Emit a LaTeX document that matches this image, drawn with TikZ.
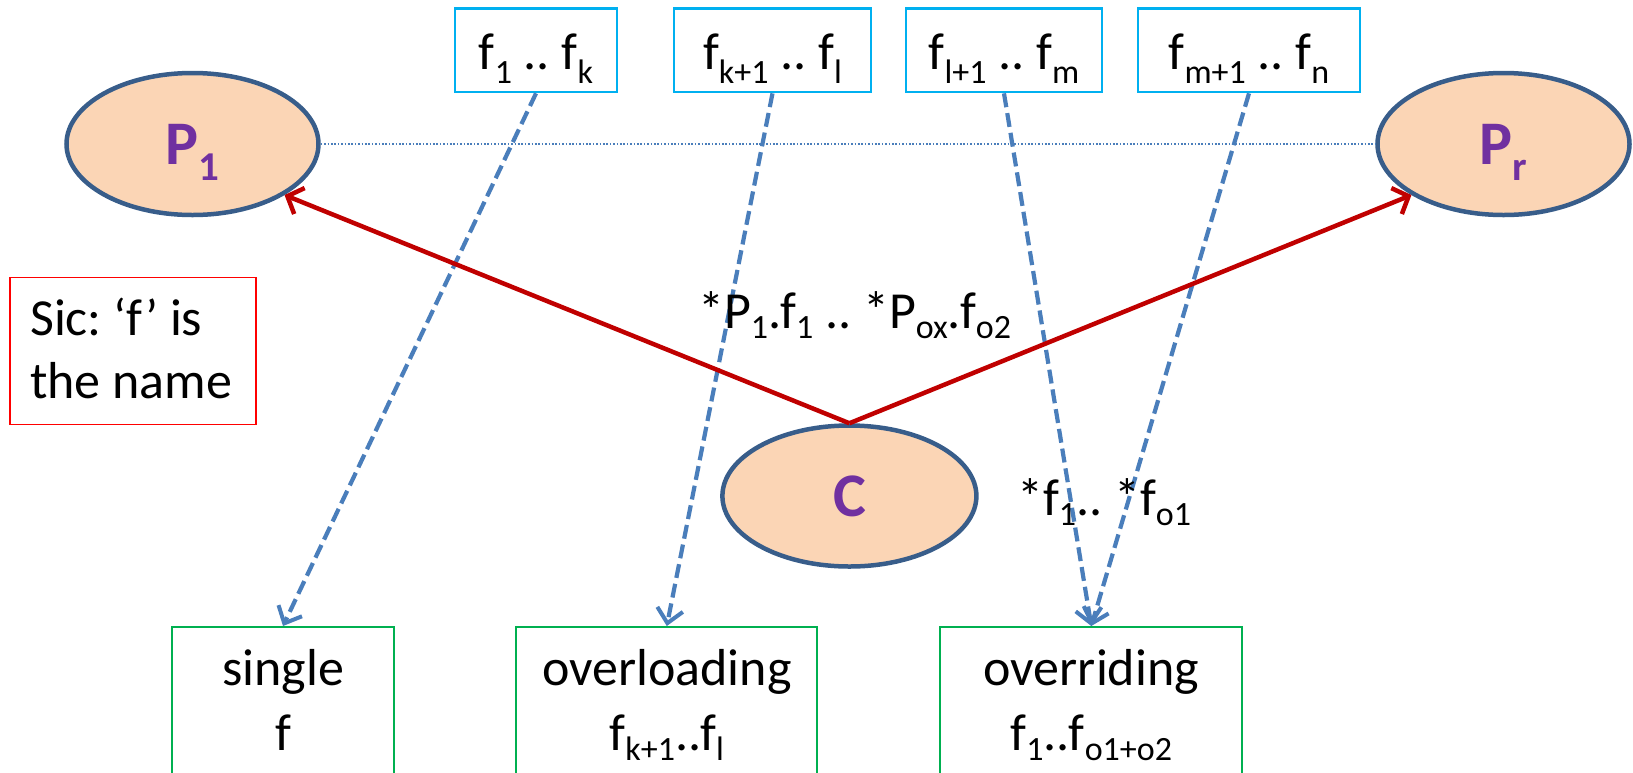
\documentclass[tikz,border=0pt]{standalone}
\usepackage{fontspec}
\setmainfont{Carlito}
\usetikzlibrary{arrows.meta,shapes.geometric}
\definecolor{peach}{HTML}{FBD5B5}
\definecolor{edgeblue}{HTML}{385D8A}
\definecolor{purp}{HTML}{7030A0}
\definecolor{darkred}{HTML}{C00000}
\definecolor{dashblue}{HTML}{4A7EBB}
\definecolor{cyanb}{HTML}{00B0F0}
\definecolor{greenb}{HTML}{00B050}
\definecolor{redb}{HTML}{FF0000}
\newcommand{\sbs}[2][10]{\raisebox{-#1pt}{\fontsize{34}{34}\selectfont #2}}
\newcommand{\bsbs}[1]{\raisebox{-16pt}{\fontsize{41}{41}\selectfont #1}}
\frenchspacing
\begin{document}
\begin{tikzpicture}[x=1pt,y=-1pt,
  ent/.style={ellipse, draw=edgeblue, line width=4.5pt, fill=peach, inner sep=0pt,
    minimum width=252pt, minimum height=142pt, text=purp, text depth=0pt,
    font=\fontsize{62}{62}\selectfont\bfseries},
  fbox/.style={draw=cyanb, line width=2.2pt, inner xsep=0pt, inner ysep=0pt,
    text height=61pt, text depth=22.7pt, font=\fontsize{52}{62}\selectfont},
  gbox/.style={draw=greenb, line width=2.2pt, minimum height=200pt, inner sep=0pt, anchor=north},
  sicbox/.style={draw=redb, line width=1.6pt, minimum width=246pt, minimum height=147pt, inner sep=0pt},
  txt/.style={font=\fontsize{52}{62}\selectfont, inner sep=0pt},
  dasharr/.style={draw=dashblue, line width=4.2pt, dash pattern=on 14pt off 6pt,
    -{Straight Barb[length=14pt,width=26pt,line width=4pt]}},
  redarr/.style={draw=darkred, line width=4.5pt,
    -{Straight Barb[length=13pt,width=28pt,line width=4.5pt]}},
  dotline/.style={draw=dashblue, line width=1.8pt, dash pattern=on 1.7pt off 1.7pt}
]
\useasboundingbox (0,0) rectangle (1633,772);

% parent / child classes
\node[ent] (P1) at (192.5,144) {P\bsbs{1}};
\node[ent] (Pr) at (1503.5,144) {P\bsbs{r}};
\node[ent, minimum width=254pt, minimum height=141pt] (C) at (849.4,496) {C};

% feature boxes
\node[fbox, minimum width=162pt] (b1) at (536,50.4) {f\sbs[14]{1} .. f\sbs[14]{k}};
\node[fbox, minimum width=197pt] (b2) at (772.5,50.4) {f\sbs[14]{k+1} .. f\sbs[14]{l}};
\node[fbox, minimum width=196pt] (b3) at (1004,50.4) {f\sbs[14]{l+1} .. f\sbs[14]{m}};
\node[fbox, minimum width=222pt] (b4) at (1249,50.4) {f\sbs[14]{m+1} .. f\sbs[14]{n}};

% result boxes
\node[gbox, minimum width=222pt] (single) at (283,626) {};
\node[gbox, minimum width=301pt] (overl) at (666.8,626) {};
\node[gbox, minimum width=302pt] (overr) at (1091.3,626) {};
\node[txt, anchor=base] (s1) at (283,685) {single};
\node[txt, anchor=base] (s2) at (283,750) {f};
\node[txt, anchor=base] (o1) at (666.8,685) {overloading};
\node[txt, anchor=base] (o2) at (666.8,750) {f\sbs{k+1}..f\sbs{l}};
\node[txt, anchor=base] (r1) at (1091.3,685) {overriding};
\node[txt, anchor=base] (r2) at (1091.3,750) {f\sbs{1}..f\sbs{o1+o2}};

% note box
\node[sicbox] (sic) at (133.2,351) {};
\node[txt, anchor=base west] (sic1) at (30,335) {Sic: ‘f’ is};
\node[txt, anchor=base west] (sic2) at (30,398) {the name};

% connectors
\draw[dotline] (P1.east) -- (Pr.west);
\draw[dasharr] (b1.south) -- (single.north);
\draw[dasharr] (b2.south) -- (overl.north);
\draw[dasharr] (b3.south) -- (overr.north);
\draw[dasharr] (b4.south) -- (overr.north);
\draw[redarr] (C.north) -- (P1.-29);
\draw[redarr] (C.north) -- (Pr.-151);

% labels
\node[txt, anchor=base west] (lblP) at (698,328) {*P\sbs{1}.f\sbs{1} .. *P\sbs{ox}.f\sbs{o2}};
\node[txt, anchor=base west] (lblC) at (1017,515) {*f\sbs{1}.. *f\sbs{o1}};
\end{tikzpicture}
\end{document}
